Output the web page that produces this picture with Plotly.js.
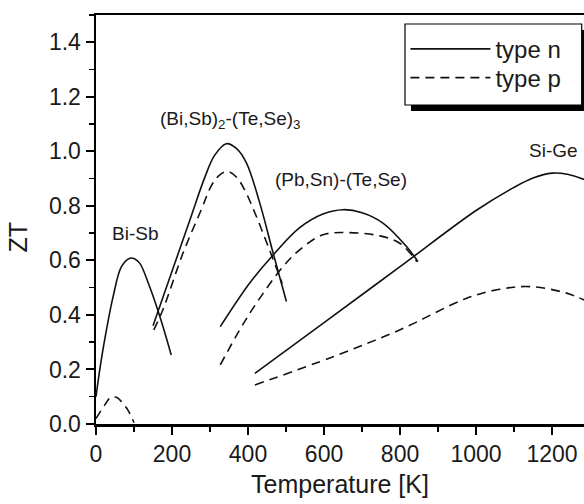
<!DOCTYPE html>
<html>
<head>
<meta charset="utf-8">
<script src="https://cdn.plot.ly/plotly-3.0.1.min.js"></script>
<style>html,body{margin:0;padding:0;background:#fff;}#chart{width:584px;height:504px;}</style>
</head>
<body>
<div id="chart"></div>
<script>
// ---- data (Temperature [K] vs ZT) ----
const biSbNx = [0, 10, 23, 45, 67, 89, 100, 115, 141, 168, 198];
const biSbNy = [0.10, 0.20, 0.31, 0.467, 0.577, 0.608, 0.607, 0.59, 0.504, 0.394, 0.253];
const biSbPx = [0, 23, 40, 55, 67, 84, 100];
const biSbPy = [0.02, 0.07, 0.10, 0.097, 0.082, 0.051, 0.005];

const biTeNx = [150, 200, 250, 285, 312, 343, 370, 396, 431, 466, 501];
const biTeNy = [0.36, 0.56, 0.76, 0.90, 0.985, 1.028, 1.01, 0.957, 0.81, 0.627, 0.449];
const biTePx = [152, 176, 229, 277, 304, 325, 347, 370, 391, 422, 453, 483, 490];
const biTePy = [0.345, 0.419, 0.627, 0.786, 0.875, 0.913, 0.926, 0.905, 0.859, 0.761, 0.651, 0.541, 0.515];

const pbTeNx = [327, 404, 466, 536, 597, 650, 700, 755, 817, 847];
const pbTeNy = [0.357, 0.516, 0.62, 0.72, 0.77, 0.786, 0.775, 0.737, 0.651, 0.596];
const pbTePx = [327, 378, 422, 492, 536, 597, 660, 747, 799, 834, 845];
const pbTePy = [0.217, 0.345, 0.443, 0.577, 0.639, 0.694, 0.702, 0.69, 0.663, 0.614, 0.595];

const siGeNx = [418, 600, 800, 1000, 1100, 1150, 1200, 1240, 1284];
const siGeNy = [0.186, 0.372, 0.577, 0.783, 0.868, 0.902, 0.92, 0.916, 0.897];
const siGePx = [418, 624, 799, 975, 1062, 1142, 1238, 1284];
const siGePy = [0.143, 0.247, 0.345, 0.461, 0.494, 0.504, 0.48, 0.455];

const seriesNames = ['type n', 'type p'];

const labelText = ['Bi-Sb', '(Bi,Sb)<sub>2</sub>-(Te,Se)<sub>3</sub>', '(Pb,Sn)-(Te,Se)', 'Si-Ge'];
const labelX = [103, 352, 644, 1205];
const labelY = [0.70, 1.116, 0.896, 1.003];

const xTickVals = [0, 200, 400, 600, 800, 1000, 1200];
const yTickVals = [0.0, 0.2, 0.4, 0.6, 0.8, 1.0, 1.2, 1.4];

// ---- styles ----
const ink = '#111';
const solid = {color: ink, width: 1.6, shape: 'spline', smoothing: 1};
const dashed = {color: ink, width: 1.6, shape: 'spline', smoothing: 1, dash: '9px,6px'};
const font = 'Arial, "Liberation Sans", sans-serif';
const txt = '#1a1a1a';

function tr(x, y, line, idx, show) {
  return {x: x, y: y, type: 'scatter', mode: 'lines', line: line, name: seriesNames[idx],
          legendgroup: seriesNames[idx], legend: idx === 0 ? 'legend' : 'legend2',
          showlegend: show, hoverinfo: 'skip'};
}

const traces = [
  tr(biSbNx, biSbNy, solid, 0, true),
  tr(biSbPx, biSbPy, dashed, 1, true),
  tr(biTeNx, biTeNy, solid, 0, false),
  tr(biTePx, biTePy, dashed, 1, false),
  tr(pbTeNx, pbTeNy, solid, 0, false),
  tr(pbTePx, pbTePy, dashed, 1, false),
  tr(siGeNx, siGeNy, solid, 0, false),
  tr(siGePx, siGePy, dashed, 1, false)
];

const annotations = labelText.map((t, i) => ({
  x: labelX[i], y: labelY[i], xref: 'x', yref: 'y', text: t, showarrow: false,
  font: {family: font, size: 19, color: txt}
}));
// y-axis title, placed as in the reference (slightly below the axis middle)
annotations.push({
  x: -0.16, y: 0.458, xref: 'paper', yref: 'paper', xanchor: 'center', yanchor: 'middle',
  text: 'ZT', textangle: -90, showarrow: false, font: {family: font, size: 25, color: txt}
});

const xStep = xTickVals[1] - xTickVals[0];
const yStep = yTickVals[1] - yTickVals[0];

const legendStyle = (yPos) => ({
  x: 0.634, y: yPos, xanchor: 'left', yanchor: 'middle',
  bgcolor: 'rgba(0,0,0,0)', borderwidth: 0,
  font: {family: font, size: 24, color: txt},
  itemwidth: 80
});

const layout = {
  width: 584, height: 504,
  margin: {l: 96, r: 0, t: 15, b: 80},
  paper_bgcolor: '#fff', plot_bgcolor: '#fff',
  font: {family: font, color: txt, size: 23},
  showlegend: true,
  legend: legendStyle(0.9161),
  legend2: legendStyle(0.846),
  xaxis: {
    range: [0, 1284], tickmode: 'linear', tick0: xTickVals[0], dtick: xStep,
    showgrid: false, zeroline: false,
    showline: true, linecolor: '#000', linewidth: 2.5, mirror: true,
    ticks: 'outside', ticklen: 8, tickwidth: 2, tickcolor: '#000',
    minor: {dtick: xStep / 2, ticks: 'outside', ticklen: 5, tickwidth: 1.5, tickcolor: '#000', showgrid: false},
    tickfont: {family: font, size: 23, color: txt},
    title: {text: 'Temperature [K]', font: {family: font, size: 25, color: txt}, standoff: 10}
  },
  yaxis: {
    range: [0, 1.5], tickmode: 'linear', tick0: yTickVals[0], dtick: yStep, tickformat: '.1f',
    showgrid: false, zeroline: false,
    showline: true, linecolor: '#000', linewidth: 2.5, mirror: false,
    ticks: 'outside', ticklen: 8, tickwidth: 2, tickcolor: '#000',
    minor: {dtick: yStep / 2, ticks: 'outside', ticklen: 5, tickwidth: 1.5, tickcolor: '#000', showgrid: false},
    tickfont: {family: font, size: 23, color: txt}
  },
  annotations: annotations,
  shapes: [
    { // legend drop shadow
      type: 'rect', xref: 'paper', yref: 'paper',
      x0: 0.6455, x1: 1.02, y0: 0.7653, y1: 0.9633,
      fillcolor: '#000', line: {width: 0}, layer: 'above'
    },
    { // legend frame
      type: 'rect', xref: 'paper', yref: 'paper',
      x0: 0.6332, x1: 0.9953, y0: 0.78, y1: 0.978,
      fillcolor: '#fff', line: {color: '#000', width: 1.2}, layer: 'above'
    }
  ]
};

Plotly.newPlot('chart', traces, layout, {staticPlot: true, displayModeBar: false});
</script>
</body>
</html>
